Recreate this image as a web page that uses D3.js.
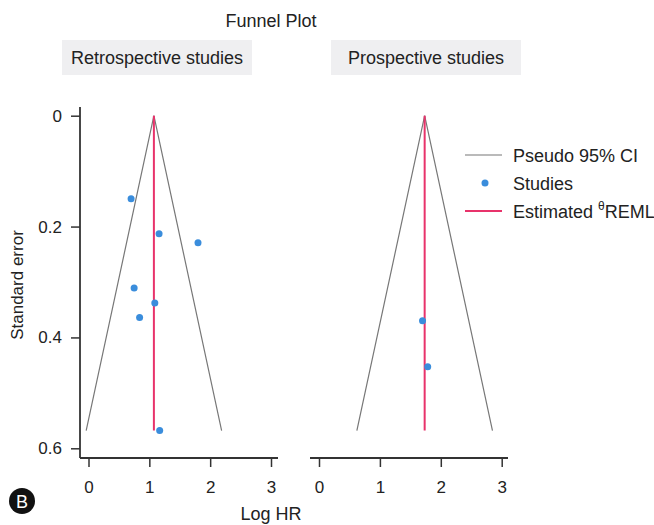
<!DOCTYPE html>
<html><head><meta charset="utf-8">
<script src="https://cdn.jsdelivr.net/npm/d3@7"></script>
<style>
body{margin:0;background:#fff;}
text{font-family:"Liberation Sans",Arial,sans-serif;fill:#222;}
</style></head>
<body><svg id="c" width="654" height="525"></svg>
<script>
// ---- data ----
const panels = ["Retrospective studies", "Prospective studies"];
const retroLogHR = [0.70, 1.16, 1.80, 0.75, 1.09, 0.84, 1.17];
const retroSE    = [0.150, 0.213, 0.229, 0.311, 0.338, 0.364, 0.568];
const prospLogHR = [1.70, 1.785];
const prospSE    = [0.370, 0.453];
const thetaREML  = [1.075, 1.735];
const xTicks = [0, 1, 2, 3];
const yTicks = [0, 0.2, 0.4, 0.6];
const legendLabels = ["Pseudo 95% CI", "Studies", "Estimated "];

const svg = d3.select("#c");
const gray = "#777", red = "#e8336b", blue = "#3a8ddc", axisCol = "#333";
const seMax = d3.max(retroSE.concat(prospSE));

const y = d3.scaleLinear().domain([0, 0.6]).range([115.7, 448.3]);
const xs = [
  d3.scaleLinear().domain([0, 3]).range([88.5, 271]),
  d3.scaleLinear().domain([0, 3]).range([319, 501.7])
];
const axisExt = [[80, 278], [310, 508]];
const axisY = 458;
const dataSets = [
  retroLogHR.map((v, i) => ({x: v, se: retroSE[i]})),
  prospLogHR.map((v, i) => ({x: v, se: prospSE[i]}))
];

// title
svg.append("text").attr("x", 271).attr("y", 27).attr("text-anchor", "middle")
  .style("font-size", "18px").text("Funnel Plot");

// strips
const strips = [[62, 252], [331, 521]];
panels.forEach((p, i) => {
  svg.append("rect").attr("x", strips[i][0]).attr("y", 40)
    .attr("width", strips[i][1] - strips[i][0]).attr("height", 35).attr("fill", "#efeff1");
  svg.append("text").attr("x", (strips[i][0] + strips[i][1]) / 2).attr("y", 64)
    .attr("text-anchor", "middle").style("font-size", "18px").text(p);
});

dataSets.forEach((d, i) => {
  const x = xs[i], th = thetaREML[i];
  const g = svg.append("g");
  // funnel
  const funnel = [[th - 1.96 * seMax, seMax], [th, 0], [th + 1.96 * seMax, seMax]];
  g.append("path").attr("d", d3.line().x(p => x(p[0])).y(p => y(p[1]))(funnel))
    .attr("fill", "none").attr("stroke", gray).attr("stroke-width", 1.2);
  // estimate line
  g.append("line").attr("x1", x(th)).attr("x2", x(th)).attr("y1", y(0)).attr("y2", y(seMax))
    .attr("stroke", red).attr("stroke-width", 2);
  // points
  g.selectAll("circle").data(d).join("circle")
    .attr("cx", p => x(p.x)).attr("cy", p => y(p.se)).attr("r", 3.5).attr("fill", blue);
  // x axis
  const ax = svg.append("g").attr("transform", `translate(0,${axisY})`)
    .call(d3.axisBottom(x).tickValues(xTicks).tickFormat(d3.format("d")).tickSize(9).tickPadding(14));
  ax.select(".domain").remove();
  ax.selectAll("line").attr("stroke", axisCol).attr("stroke-width", 1.5);
  ax.selectAll("text").style("font-size", "17px").style("fill", "#222");
  svg.append("line").attr("x1", axisExt[i][0]).attr("x2", axisExt[i][1]).attr("y1", axisY).attr("y2", axisY)
    .attr("stroke", axisCol).attr("stroke-width", 1.8);
});

// y axis
const ay = svg.append("g").attr("transform", "translate(80,0)")
  .call(d3.axisLeft(y).tickValues(yTicks).tickFormat(d => d === 0 ? "0" : d3.format(".1f")(d)).tickSize(9).tickPadding(9));
ay.select(".domain").remove();
ay.selectAll("line").attr("stroke", axisCol).attr("stroke-width", 1.5);
ay.selectAll("text").style("font-size", "17px").style("fill", "#222");
svg.append("line").attr("x1", 80).attr("x2", 80).attr("y1", 107).attr("y2", axisY)
  .attr("stroke", axisCol).attr("stroke-width", 1.8);

// axis titles
svg.append("text").attr("transform", "translate(23,285) rotate(-90)").attr("text-anchor", "middle")
  .style("font-size", "17px").text("Standard error");
svg.append("text").attr("x", 271).attr("y", 520).attr("text-anchor", "middle")
  .style("font-size", "18px").text("Log HR");

// legend
const lg = svg.append("g");
const ly = [155, 183, 211];
lg.append("line").attr("x1", 465).attr("x2", 502).attr("y1", ly[0]).attr("y2", ly[0]).attr("stroke", gray).attr("stroke-width", 1.2);
lg.append("circle").attr("cx", 485).attr("cy", ly[1]).attr("r", 3.5).attr("fill", blue);
lg.append("line").attr("x1", 465).attr("x2", 502).attr("y1", ly[2]).attr("y2", ly[2]).attr("stroke", red).attr("stroke-width", 2);
legendLabels.forEach((t, i) => {
  const tx = lg.append("text").attr("x", 513).attr("y", ly[i] + 6.5).style("font-size", "18px").text(t);
  if (i === 2) {
    tx.append("tspan").attr("dy", -8).style("font-size", "12px").text("θ");
    tx.append("tspan").attr("dy", 8).text("REML");
  }
});

// panel badge
svg.append("circle").attr("cx", 22).attr("cy", 501).attr("r", 13).attr("fill", "#111");
svg.append("text").attr("x", 22).attr("y", 507.5).attr("text-anchor", "middle")
  .style("font-size", "18px").style("fill", "#fff").text("B");
</script></body></html>
